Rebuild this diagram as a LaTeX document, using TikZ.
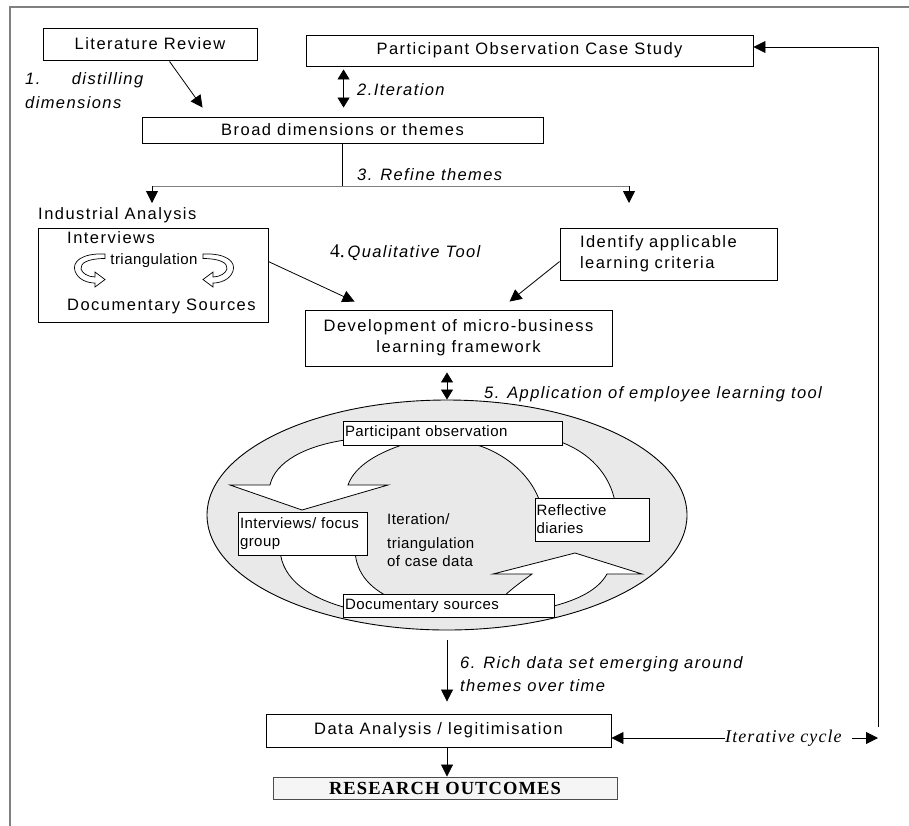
\documentclass[tikz,border=0pt]{standalone}
\usepackage{fontspec}
\setmainfont{Liberation Sans}
\newfontfamily\mainf[LetterSpace=9]{Liberation Sans}
\newfontfamily\itf[LetterSpace=8.5]{Liberation Sans}
\newfontfamily\smallf[LetterSpace=3]{Liberation Sans}
\newfontfamily\serf{Liberation Serif}
\newfontfamily\serls[LetterSpace=6]{Liberation Serif}
\usetikzlibrary{arrows.meta,calc,shapes.geometric}
\begin{document}
\begin{tikzpicture}[x=1pt,y=-1pt,
  box/.style={draw=black,line width=0.9pt,fill=white,inner sep=0pt},
  mt/.style={font=\mainf\fontsize{16.5}{21}\selectfont},
  it/.style={font=\itf\itshape\fontsize{16.5}{24}\selectfont,inner sep=0pt},
  st/.style={font=\smallf\fontsize{15}{18}\selectfont},
  conn/.style={line width=0.8pt},
  tri/.style={conn,-{Triangle[length=12pt,width=12pt]}},
  dtri/.style={conn,{Triangle[length=10pt,width=12pt]}-{Triangle[length=10pt,width=12pt]}},
  band/.style={draw=black,line width=0.8pt,fill=white},
]
\fill[white] (0,0) rectangle (909,825);
\useasboundingbox (0,0) rectangle (909,825);
\draw[line width=2pt,gray] (10,830) -- (10,7) -- (915,7);

% top boxes
\node[box,mt,minimum width=214pt,minimum height=32pt] (lit) at (150,44) {Literature Review};
\node[box,mt,minimum width=447pt,minimum height=31pt] (pocs) at (529.5,50.5) {Participant Observation Case Study};
\node[box,mt,minimum width=401pt,minimum height=26pt] (broad) at (342.5,130) {Broad dimensions or themes};

% industrial analysis
\node[box,minimum width=230pt,minimum height=94pt] (ind) at (153,275) {};
\node[mt,anchor=west,inner sep=0pt] (indt) at (38,215) {Industrial Analysis};
\node[mt,anchor=west,inner sep=0pt] (intv) at (67,238) {Interviews};
\node[st,inner sep=0pt] (trg) at (154,261) {triangulation};
\node[mt,anchor=west,inner sep=0pt] (docs) at (67,306) {Documentary Sources};
\draw[band,line width=0.7pt] (105,254) .. controls (81,253) and (72,262) .. (75,271) .. controls (78,280) and (88,283) .. (95,283) -- (95,287) -- (105,279.5) -- (95,272) -- (95,277) .. controls (88,277) and (82,273) .. (81,269) .. controls (80,263) and (88,258.5) .. (105,258.5) -- cycle;
\draw[band,line width=0.7pt] (203,254) .. controls (227,253) and (236,262) .. (233,271) .. controls (230,280) and (220,283) .. (213,283) -- (213,287) -- (203,279.5) -- (213,272) -- (213,277) .. controls (220,277) and (226,273) .. (227,269) .. controls (228,263) and (220,258.5) .. (203,258.5) -- cycle;

\node[box,mt,text width=177pt,inner xsep=20pt,minimum height=52pt,align=left] (ident) at (668.5,254) {Identify applicable\\learning criteria};
\node[box,mt,minimum width=307pt,minimum height=56pt,align=center] (dev) at (458.5,338) {Development of micro-business\\learning framework};

% ellipse
\node[draw=black,line width=0.9pt,fill=gray!17,ellipse,minimum width=480pt,minimum height=230pt,inner sep=0pt] (ell) at (447,515) {};
\draw[band] (405,444) .. controls (380,452) and (355,465) .. (348,485) -- (388,485) -- (302,510) -- (230,485) -- (270,485) .. controls (275,462) and (305,446) .. (345,440) -- cycle;
\draw[band] (280,550) .. controls (282,580) and (310,598) .. (347,608) -- (395,600) .. controls (372,590) and (356,575) .. (355,550) -- cycle;
\draw[band] (470,443) .. controls (500,450) and (530,472) .. (540,502) -- (615,502) .. controls (610,475) and (590,452) .. (558,441) -- cycle;
\draw[band] (500,600) .. controls (512,588) and (524,580) .. (532,574) -- (493,574) -- (575,553) -- (642,574) -- (607,574) .. controls (598,590) and (578,600) .. (550,607) -- cycle;

\node[box,st,text width=215pt,inner xsep=2pt,minimum height=24pt,align=left] (po) at (452.5,433) {Participant observation};
\node[box,st,text width=125pt,inner xsep=2pt,minimum height=43pt,align=left] (iv) at (302.5,533.5) {Interviews/ focus\\group};
\node[box,st,text width=111pt,inner xsep=1.5pt,minimum height=43pt,align=left] (rd) at (592,519.5) {Reflective\\diaries};
\node[box,st,text width=207pt,inner xsep=2pt,minimum height=23pt,align=left] (ds) at (448.5,605.5) {Documentary sources};
\node[st,anchor=north west,inner sep=0pt,align=left] (itr) at (387,513) {Iteration/\\[6pt]triangulation\\of case data};

% bottom boxes
\node[box,mt,minimum width=345pt,minimum height=33pt] (data) at (438.5,730.5) {Data Analysis / legitimisation};
\node[box,draw=gray!60!black,fill=gray!8,font=\serls\bfseries\fontsize{18.5}{20}\selectfont,minimum width=344pt,minimum height=22pt] (res) at (445,788) {RESEARCH OUTCOMES};

% labels
\node[it,anchor=north west,align=left] (l1) at (25,72) {\makebox[118pt][l]{1.\hfill distilling}\\dimensions};
\node[it,anchor=west] (l2) at (357,90) {2.Iteration};
\node[it,anchor=west] (l3) at (357,175) {3. Refine themes};
\node[it,anchor=west] (l4) at (330,253) {{\serf\upshape\fontsize{19.5}{20}\selectfont 4.}\,Qualitative Tool};
\node[it,anchor=west] (l5) at (484,394) {5. Application of employee learning tool};
\node[it,anchor=north west,align=left,font=\itf\itshape\fontsize{16.5}{23}\selectfont] (l6) at (460,656) {6. Rich data set emerging around\\themes over time};
\node[font=\serls\itshape\fontsize{18}{20}\selectfont,anchor=west,inner sep=0pt] (itc) at (725,738) {Iterative cycle};

% connectors
\draw[tri] ($(lit.south west)+(127,1)$) -- ($(broad.north west)+(61,-9)$);
\draw[dtri] ($(pocs.south west)+(38,3)$) -- ($(broad.north west)+(202,-9)$);
\coordinate (sL) at (152,186);
\coordinate (sR) at (629,186);
\draw[conn] (broad.south) -- (broad.south |- sL);
\draw[conn,gray] (sL) -- (sR);
\draw[tri] (sL) -- ++(0,17);
\draw[tri] (sR) -- ++(0,17);
\draw[tri] ($(ind.north east)+(0,34)$) -- ($(dev.north west)+(50,-8)$);
\draw[tri] ($(ident.north west)+(0,34)$) -- ($(dev.north west)+(205,-8)$);
\draw[dtri] ($(dev.south -| ell.north)+(0,6)$) -- (ell.north);
\draw[tri] ($(ell.south)+(0,10)$) -- ($(data.north -| ell.south)+(0,-12)$);
\draw[tri] (data.south -| ell.south) -- (res.north -| ell.south);
\coordinate (vb) at (878,727);
\coordinate (vt) at (878,47);
\draw[tri] (itc.west) -- (itc.west -| data.east);
\draw[tri] ($(itc.east)+(10,0)$) -- (itc.east -| vb);
\draw[conn] (vb) -- (vt);
\draw[tri] (vt) -- (vt -| pocs.east);
\end{tikzpicture}
\end{document}
